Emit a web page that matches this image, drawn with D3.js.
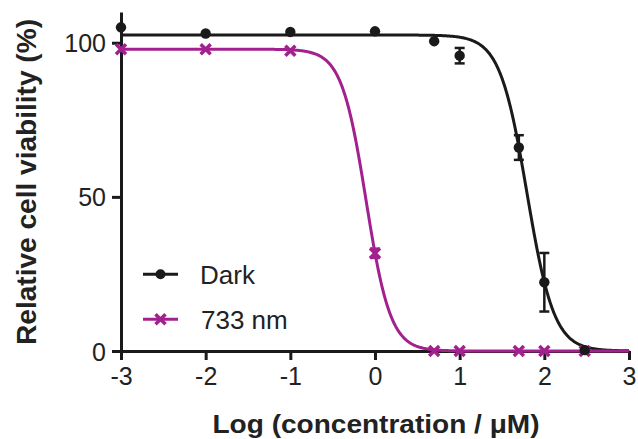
<!DOCTYPE html>
<html>
<head>
<meta charset="utf-8">
<script src="https://cdn.jsdelivr.net/npm/d3@7"></script>
<style>
html,body{margin:0;padding:0;background:#fff;}
svg{display:block;font-family:"Liberation Sans",Arial,Helvetica,sans-serif;}
</style>
</head>
<body>
<svg id="chart" width="638" height="439"></svg>
<script>
// ---- data ----
const xTicks = [-3, -2, -1, 0, 1, 2, 3];
const yTicks = [0, 50, 100];
const logConc = [-3, -2, -1, 0, 0.699, 1, 1.699, 2, 2.477];
const darkMean = [105, 103, 103.5, 103.7, 100.5, 95.8, 66, 22.3, 0.3];
const darkErr  = [0, 0, 0, 0, 0, 2.5, 4, 9.5, 0];
const nmMean   = [97.9, 97.9, 97.4, 31.7, 0, 0, 0, 0, 0];
const nmErr    = [0, 0, 0, 1.5, 0, 0, 0, 0, 0];
const seriesNames = ["Dark", "733 nm"];
// fitted dose-response parameters (four-parameter logistic)
const darkFit = [102.5, 0, 1.795, 2.71]; // top, bottom, logIC50, hill
const nmFit   = [97.9, 0, -0.106, 3.0];

const BLACK = "#1a1a1a", MAG = "#a3218e";
const FONT = '"Liberation Sans",Arial,Helvetica,sans-serif';

const svg = d3.select("#chart");
const x = d3.scaleLinear().domain([-3, 3]).range([121, 629]);
const y = d3.scaleLinear().domain([0, 110]).range([351, 11.9]);

function logistic(p, lx) {
  return p[1] + (p[0] - p[1]) / (1 + Math.pow(10, (lx - p[2]) * p[3]));
}

// axes
const xAxis = svg.append("g").attr("transform", "translate(0," + y(0) + ")")
  .call(d3.axisBottom(x).tickValues(xTicks).tickSize(9).tickSizeOuter(0).tickPadding(6)
    .tickFormat(d => d));
const yAxis = svg.append("g").attr("transform", "translate(" + x(-3) + ",0)")
  .call(d3.axisLeft(y).tickValues(yTicks).tickSize(9).tickSizeOuter(0).tickPadding(5));
[xAxis, yAxis].forEach(g => {
  g.attr("font-family", FONT).attr("font-size", 25);
  g.selectAll("path.domain").attr("stroke", BLACK).attr("stroke-width", 3);
  g.selectAll(".tick line").attr("stroke", BLACK).attr("stroke-width", 3);
  g.selectAll(".tick text").attr("fill", "#222").style("font-size", "25px").style("font-family", FONT);
});
xAxis.selectAll(".tick text").attr("dy", "0.71em").attr("y", 16);
yAxis.selectAll(".tick text").attr("x", -15).attr("dy", "0.36em");

// fitted curves
const xs = d3.range(-3, 3.0001, 0.01);
const line = d3.line().x(d => x(d[0])).y(d => y(d[1])).curve(d3.curveLinear);
svg.append("path").datum(xs.map(v => [v, logistic(darkFit, v)]))
  .attr("d", line).attr("fill", "none").attr("stroke", BLACK).attr("stroke-width", 3);
svg.append("path").datum(xs.map(v => [v, logistic(nmFit, v)]))
  .attr("d", line).attr("fill", "none").attr("stroke", MAG).attr("stroke-width", 3);

// error bars
function errBars(means, errs, color) {
  const g = svg.append("g").attr("stroke", color).attr("stroke-width", 2.5).attr("fill", "none");
  logConc.forEach((lx, i) => {
    if (!errs[i]) return;
    const cx = x(lx), y1 = y(means[i] + errs[i]), y2 = y(means[i] - errs[i]);
    g.append("line").attr("x1", cx).attr("x2", cx).attr("y1", y1).attr("y2", y2);
    g.append("line").attr("x1", cx - 5).attr("x2", cx + 5).attr("y1", y1).attr("y2", y1);
    g.append("line").attr("x1", cx - 5).attr("x2", cx + 5).attr("y1", y2).attr("y2", y2);
  });
}
function cross(g, cx, cy, s) {
  g.append("path").attr("d", `M${cx - s},${cy - s}L${cx + s},${cy + s}M${cx - s},${cy + s}L${cx + s},${cy - s}`)
    .attr("stroke", MAG).attr("stroke-width", 3.5).attr("fill", "none");
}

errBars(nmMean, nmErr, MAG);
const gNm = svg.append("g");
logConc.forEach((lx, i) => cross(gNm, x(lx), y(nmMean[i]), 5));

errBars(darkMean, darkErr, BLACK);
svg.append("g").selectAll("circle").data(logConc).join("circle")
  .attr("cx", d => x(d)).attr("cy", (d, i) => y(darkMean[i])).attr("r", 5.2).attr("fill", BLACK);

// legend
const lg = svg.append("g");
lg.append("line").attr("x1", 143).attr("x2", 178).attr("y1", 274.3).attr("y2", 274.3)
  .attr("stroke", BLACK).attr("stroke-width", 3);
lg.append("circle").attr("cx", 160.5).attr("cy", 274.3).attr("r", 5).attr("fill", BLACK);
lg.append("line").attr("x1", 143).attr("x2", 178).attr("y1", 319.3).attr("y2", 319.3)
  .attr("stroke", MAG).attr("stroke-width", 3);
cross(lg, 160.5, 319.3, 5);
lg.append("text").attr("x", 200).attr("y", 283.5).text(seriesNames[0])
  .attr("fill", "#222").style("font-size", "26px");
lg.append("text").attr("x", 201).attr("y", 328.5).text(seriesNames[1])
  .attr("fill", "#222").style("font-size", "26px");

// axis titles
svg.append("text").attr("x", 376).attr("y", 433).attr("text-anchor", "middle")
  .attr("textLength", 327).attr("lengthAdjust", "spacingAndGlyphs")
  .style("font-size", "26px").style("font-weight", "bold").attr("fill", "#222")
  .text("Log (concentration / \u03bcM)");
svg.append("text").attr("transform", "translate(36,182) rotate(-90)").attr("text-anchor", "middle")
  .attr("textLength", 326).attr("lengthAdjust", "spacingAndGlyphs")
  .style("font-size", "27px").style("font-weight", "bold").attr("fill", "#222")
  .text("Relative cell viability (%)");
</script>
</body>
</html>
